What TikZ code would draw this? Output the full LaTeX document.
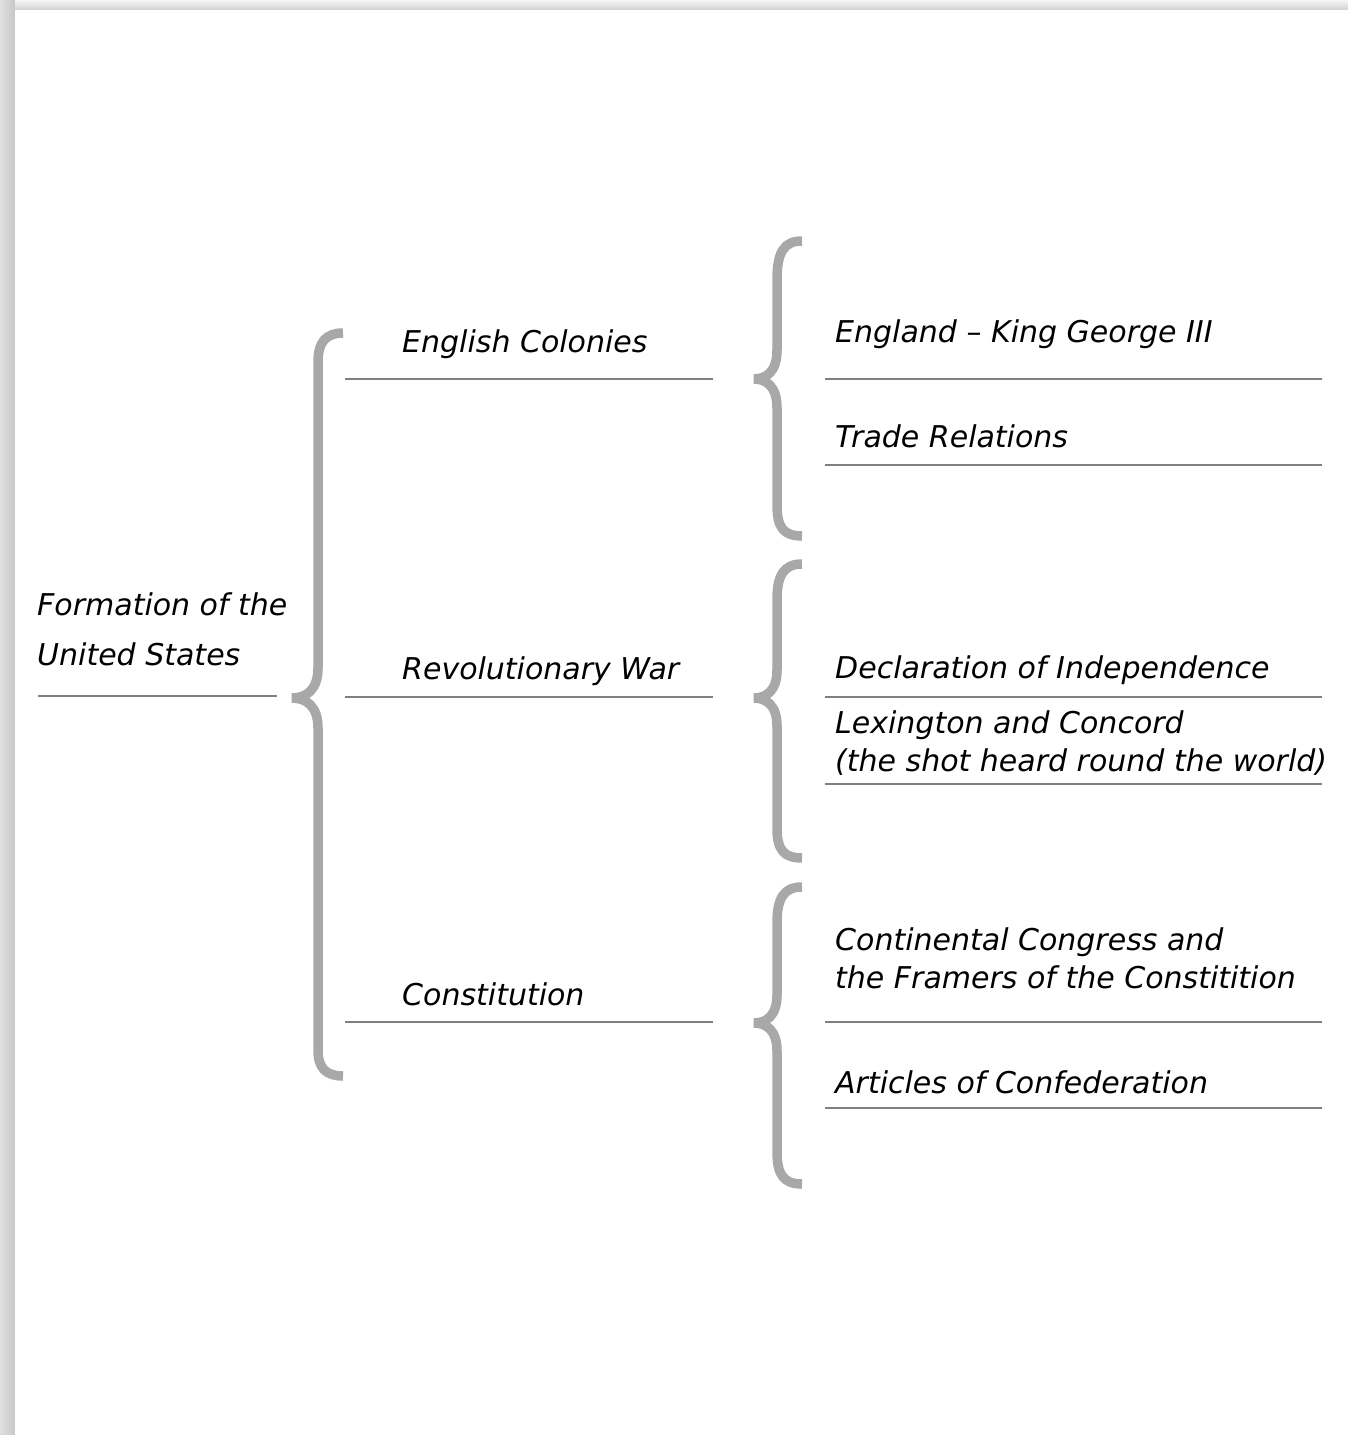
\documentclass[tikz,border=0pt]{standalone}
\usepackage{fontspec}
\setmainfont{DejaVu Sans}
\usetikzlibrary{shadings}
\definecolor{bracegray}{HTML}{A8A8A8}
\definecolor{linegray}{HTML}{808080}
\begin{document}
\begin{tikzpicture}[x=1pt,y=-1pt,
  lbl/.style={anchor=base west,inner sep=0pt,font=\fontsize{30}{38}\selectfont\itshape,align=left},
  brace/.style={draw=bracegray,line width=9.5pt,line cap=butt},
  uline/.style={draw=linegray,line width=2.6pt}]
\useasboundingbox (0,0) rectangle (1348,1435);
% page shadow
\shade[left color=white!88!black,right color=white!78!black] (0,0) rectangle (15,1435);
\shade[top color=white!96!black,bottom color=white!82!black] (15,0) rectangle (1348,10);
\fill[white] (15,10) rectangle (1348,1435);
% braces
\draw[brace] (343,333) .. controls (326,333) and (318,342) .. (318,362) -- (318,668)
  .. controls (318,690) and (306,698) .. (292,698) .. controls (306,698) and (318,706) .. (318,728)
  -- (318,1050) .. controls (318,1068) and (326,1076) .. (343,1076);
\draw[brace] (802,241) .. controls (784,241) and (777,252) .. (777,280) -- (777,350)
  .. controls (777,372) and (766,379) .. (754,379) .. controls (766,379) and (777,386) .. (777,408)
  -- (777,505) .. controls (777,528) and (784,536) .. (802,536);
\draw[brace] (802,564) .. controls (784,564) and (777,575) .. (777,600) -- (777,670)
  .. controls (777,691) and (766,698) .. (754,698) .. controls (766,698) and (777,705) .. (777,726)
  -- (777,828) .. controls (777,850) and (784,858) .. (802,858);
\draw[brace] (802,887) .. controls (784,887) and (777,898) .. (777,923) -- (777,995)
  .. controls (777,1016) and (766,1023) .. (754,1023) .. controls (766,1023) and (777,1030) .. (777,1051)
  -- (777,1152) .. controls (777,1175) and (784,1184) .. (802,1184);
% underlines
\coordinate (l0a) at (38,696); \coordinate (l0b) at (277,696);
\draw[uline] (l0a) -- (l0b);
\foreach \y in {379,697,1022}{\draw[uline] (345,\y) -- (713,\y);}
\foreach \y in {379,465,697,784,1022,1108}{\draw[uline] (825,\y) -- (1322,\y);}
% labels (base anchor = baseline of the last line)
\node[lbl] (root) at (37,665) {Formation of the\\[12pt]United States};
\node[lbl] (ec) at (402,352) {English Colonies};
\node[lbl] (rw) at (402,679) {Revolutionary War};
\node[lbl] (con) at (402,1005) {Constitution};
\node[lbl] (eng) at (835,342) {England -- King George III};
\node[lbl] (tr) at (835,447) {Trade Relations};
\node[lbl] (doi) at (835,678) {Declaration of Independence};
\node[lbl] (lex) at (835,771) {Lexington and Concord\\(the shot heard round the world)};
\node[lbl] (cc) at (835,988) {Continental Congress and\\the Framers of the Constitition};
\node[lbl] (aoc) at (835,1093) {Articles of Confederation};
\end{tikzpicture}
\end{document}
